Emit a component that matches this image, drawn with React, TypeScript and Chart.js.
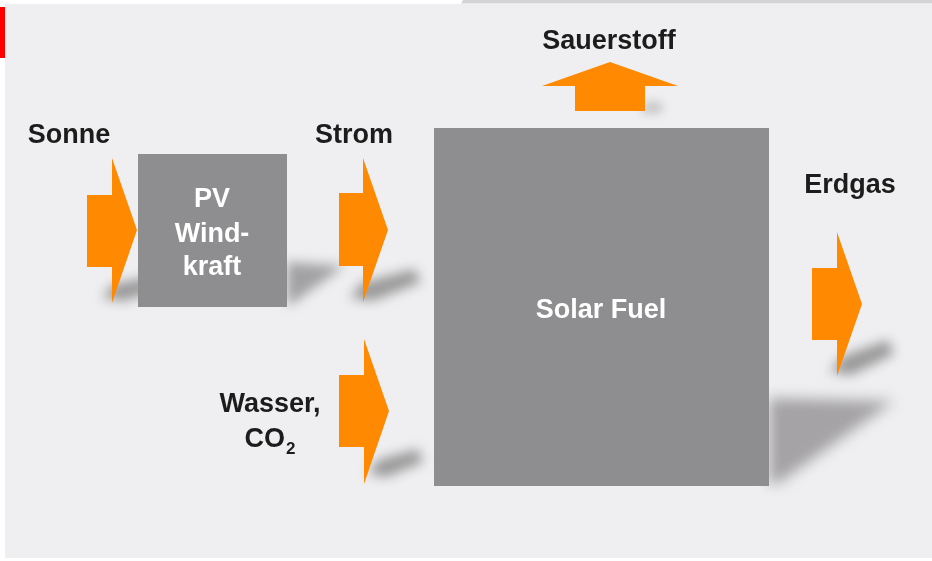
import React, { useEffect, useRef } from "react";
import { Chart, registerables } from "chart.js";

Chart.register(...registerables);

const W = 932;
const H = 561;

// Shapes (diagram coordinates, x to the right, y downward)
const panel = [[5, 4], [932, 4], [932, 558], [5, 558]];
const topBar = [[463, 0], [932, 0], [932, 3.5], [461, 3.5]];
const redMark = [[0, 7], [5, 7], [5, 58], [0, 58]];
const pvBox = [[138, 154], [287, 154], [287, 307], [138, 307]];
const solarBox = [[434, 128], [769, 128], [769, 486], [434, 486]];
const arrowSonne = [[87, 195], [112, 195], [112, 158], [137, 230], [112, 303], [112, 267], [87, 267]];
const arrowStrom = [[339, 193], [363, 193], [363, 158], [388, 230], [363, 302], [363, 266], [339, 266]];
const arrowWasser = [[339, 375], [364, 375], [364, 339], [389, 411], [364, 484], [364, 447], [339, 447]];
const arrowErdgas = [[812, 268], [837, 268], [837, 232], [862, 304], [837, 376], [837, 340], [812, 340]];
const arrowSauerstoff = [[575, 111], [575, 86], [542, 86], [610, 62], [678, 86], [645, 86], [645, 111]];

// Shadows
const shadowSolar = [[769, 398], [894, 401], [780, 482], [769, 485]];
const shadowPv = [[287, 262], [344, 266], [293, 303], [287, 305]];
const shadowSonne = [[102, 298], [114, 284], [160, 275], [166, 287], [124, 301]];
const shadowStrom = [[350, 298], [362, 283], [414, 269], [421, 282], [372, 301]];
const shadowWasser = [[368, 474], [378, 460], [418, 449], [423, 462], [386, 477]];
const shadowErdgas = [[830, 372], [843, 356], [888, 340], [894, 354], [851, 375]];
const shadowSauerstoff = [[640, 108], [650, 101], [663, 103], [661, 113], [645, 114]];

// Labels
const labelText = ["Sonne", "Strom", "Sauerstoff", "Erdgas", "PV", "Wind-", "kraft", "Solar Fuel", "Wasser,"];
const labelX = [69, 354, 609, 850, 212, 212, 212, 601, 270];
const labelY = [136, 136, 42, 186, 200, 235, 268, 311, 405];
const labelWhite = [false, false, false, false, true, true, true, true, false];
const co2Main = "CO";
const co2Sub = "2";
const co2X = 270;
const co2Y = 440;

const ORANGE = "#ff8900";
const BOX = "#8e8e90";
const PANEL = "#efeff1";
const FONT = "'Liberation Sans', Arial, sans-serif";

function poly(pts: number[][], color: string, order: number, blur = 0) {
  return {
    data: pts.map(([x, y]) => ({ x, y })),
    fill: blur ? false : "shape",
    backgroundColor: color,
    borderColor: "rgba(0,0,0,0)",
    borderWidth: 0,
    pointRadius: 0,
    tension: 0,
    order,
    clip: false,
    shadowColor: blur ? color : undefined,
    shadowBlur: blur,
  } as any;
}

const shadowPlugin = {
  id: "shadowBlur",
  beforeDatasetDraw(chart: any, args: any) {
    const ds = chart.data.datasets[args.index];
    if (!ds.shadowBlur) return;
    const pts = args.meta.data;
    const ctx = chart.ctx as CanvasRenderingContext2D;
    ctx.save();
    ctx.filter = `blur(${ds.shadowBlur}px)`;
    ctx.fillStyle = ds.shadowColor;
    ctx.beginPath();
    pts.forEach((p: any, i: number) => (i ? ctx.lineTo(p.x, p.y) : ctx.moveTo(p.x, p.y)));
    ctx.closePath();
    ctx.fill();
    ctx.restore();
  },
};

const labelPlugin = {
  id: "labels",
  afterDatasetsDraw(chart: any) {
    const ctx = chart.ctx as CanvasRenderingContext2D;
    const xs = chart.scales.x;
    const ys = chart.scales.y;
    ctx.save();
    ctx.font = `bold 27px ${FONT}`;
    ctx.textAlign = "center";
    ctx.textBaseline = "middle";
    labelText.forEach((t, i) => {
      ctx.fillStyle = labelWhite[i] ? "#ffffff" : "#1c1c1c";
      ctx.fillText(t, xs.getPixelForValue(labelX[i]), ys.getPixelForValue(labelY[i]));
    });
    // CO2 with subscript
    ctx.fillStyle = "#1c1c1c";
    ctx.font = `bold 27px ${FONT}`;
    const wMain = ctx.measureText(co2Main).width;
    ctx.font = `bold 17px ${FONT}`;
    const wSub = ctx.measureText(co2Sub).width;
    const cx = xs.getPixelForValue(co2X);
    const cy = ys.getPixelForValue(co2Y);
    const start = cx - (wMain + wSub + 1) / 2;
    ctx.textAlign = "left";
    ctx.font = `bold 27px ${FONT}`;
    ctx.fillText(co2Main, start, cy);
    ctx.font = `bold 17px ${FONT}`;
    ctx.fillText(co2Sub, start + wMain + 1, cy + 9);
    ctx.restore();
  },
};

export default function App() {
  const ref = useRef<HTMLCanvasElement | null>(null);
  useEffect(() => {
    if (!ref.current) return;
    const chart = new Chart(ref.current, {
      type: "line",
      data: {
        datasets: [
          poly(panel, PANEL, 100),
          poly(topBar, "#d4d4d4", 99),
          poly(redMark, "#ff0000", 98),
          poly(shadowSolar, "rgba(115,112,115,0.6)", 60, 7),
          poly(shadowPv, "rgba(110,108,110,0.6)", 60, 6),
          poly(shadowSonne, "rgba(95,95,95,0.6)", 60, 6),
          poly(shadowStrom, "rgba(95,95,95,0.6)", 60, 6),
          poly(shadowWasser, "rgba(95,95,95,0.6)", 60, 6),
          poly(shadowErdgas, "rgba(95,95,95,0.6)", 60, 6),
          poly(shadowSauerstoff, "rgba(120,120,120,0.35)", 60, 5),
          poly(arrowSonne, ORANGE, 20),
          poly(pvBox, BOX, 10),
          poly(arrowStrom, ORANGE, 10),
          poly(arrowWasser, ORANGE, 10),
          poly(solarBox, BOX, 10),
          poly(arrowErdgas, ORANGE, 10),
          poly(arrowSauerstoff, ORANGE, 10),
        ],
      },
      options: {
        animation: false,
        responsive: false,
        events: [],
        layout: { padding: 0 },
        scales: {
          x: { type: "linear", min: 0, max: W, display: false },
          y: { type: "linear", min: 0, max: H, reverse: true, display: false },
        },
        plugins: {
          legend: { display: false },
          tooltip: { enabled: false },
        },
      },
      plugins: [shadowPlugin, labelPlugin],
    } as any);
    return () => chart.destroy();
  }, []);
  return (
    <div style={{ position: "fixed", left: 0, top: 0, width: W, height: H, background: "#ffffff" }}>
      <canvas ref={ref} width={W} height={H} style={{ display: "block" }} />
    </div>
  );
}
